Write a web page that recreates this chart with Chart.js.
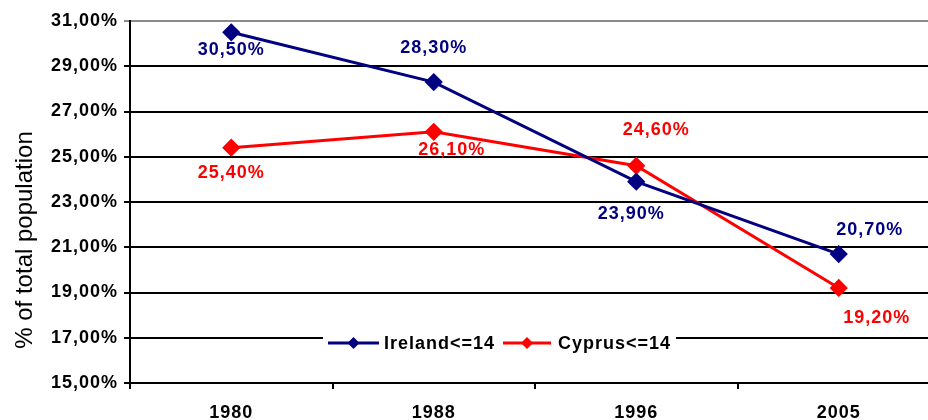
<!DOCTYPE html>
<html>
<head>
<meta charset="utf-8">
<script src="https://cdn.jsdelivr.net/npm/chart.js@4.4.0/dist/chart.umd.min.js"></script>
<style>
  html, body { margin: 0; padding: 0; background: #fff; overflow: hidden; }
  #wrap { width: 950px; height: 420px; }
</style>
</head>
<body>
<div id="wrap"><canvas id="chart"></canvas></div>
<script>
const years = ['1980', '1988', '1996', '2005'];
const ireland = [30.5, 28.3, 23.9, 20.7];
const cyprus = [25.4, 26.1, 24.6, 19.2];
const yMin = 15, yMax = 31, yStep = 2;
const yTitle = '% of total population';

// label nudges (pixels) per point, like the original placement
const irelandLabelOffsets = [[0, 18], [0, -34], [-5, 32], [31, -24]];
const cyprusLabelOffsets = [[0, 25], [18, 18], [20, -36], [38, 30]];

const FONT = '"Liberation Sans", Arial, sans-serif';
const pct = v => v.toFixed(2).replace('.', ',') + '%';

// the original text is a bit spread out, so widen letters a little
const spacing = {
    id: 'spacing',
    beforeDraw(chart) { chart.ctx.letterSpacing = '1px'; },
    afterDraw(chart) { chart.ctx.letterSpacing = '0px'; }
};

const pointLabels = {
    id: 'pointLabels',
    afterDatasetsDraw(chart) {
        const ctx = chart.ctx;
        ctx.save();
        ctx.letterSpacing = '1px';
        ctx.font = 'bold 18px ' + FONT;
        ctx.textAlign = 'center';
        ctx.textBaseline = 'middle';
        chart.data.datasets.forEach((ds, i) => {
            const meta = chart.getDatasetMeta(i);
            meta.data.forEach((pt, j) => {
                const off = ds.labelOffsets[j];
                ctx.fillStyle = ds.borderColor;
                ctx.fillText(pct(ds.data[j]), pt.x + off[0], pt.y + off[1]);
            });
        });
        ctx.restore();
    }
};

const sideTitle = {
    id: 'sideTitle',
    afterDraw(chart) {
        const ctx = chart.ctx;
        ctx.save();
        ctx.letterSpacing = '0px';
        ctx.translate(25, 240);
        ctx.rotate(-Math.PI / 2);
        ctx.font = '24px ' + FONT;
        ctx.fillStyle = '#000';
        ctx.textAlign = 'center';
        ctx.textBaseline = 'middle';
        ctx.fillText(yTitle, 0, 0);
        ctx.restore();
    }
};

const boxLegend = {
    id: 'boxLegend',
    afterDraw(chart) {
        const ctx = chart.ctx;
        const y = 343;
        ctx.save();
        ctx.fillStyle = '#fff';
        ctx.fillRect(323, 329, 353, 28);
        const items = [
            { x1: 328, x2: 379, tx: 384 },
            { x1: 503, x2: 551, tx: 558 }
        ];
        chart.data.datasets.forEach((ds, i) => {
            const it = items[i];
            ctx.strokeStyle = ds.borderColor;
            ctx.lineWidth = 3;
            ctx.beginPath();
            ctx.moveTo(it.x1, y);
            ctx.lineTo(it.x2, y);
            ctx.stroke();
            const cx = (it.x1 + it.x2) / 2, r = 6;
            ctx.fillStyle = ds.borderColor;
            ctx.beginPath();
            ctx.moveTo(cx, y - r);
            ctx.lineTo(cx + r, y);
            ctx.lineTo(cx, y + r);
            ctx.lineTo(cx - r, y);
            ctx.closePath();
            ctx.fill();
            ctx.fillStyle = '#000';
            ctx.letterSpacing = '1px';
            ctx.font = 'bold 18px ' + FONT;
            ctx.textAlign = 'left';
            ctx.textBaseline = 'middle';
            ctx.fillText(ds.label, it.tx, y + 1);
        });
        ctx.restore();
    }
};

new Chart(document.getElementById('chart'), {
    type: 'line',
    data: {
        labels: years,
        datasets: [{
            label: 'Ireland<=14',
            data: ireland,
            borderColor: '#000080',
            backgroundColor: '#000080',
            borderWidth: 3,
            pointStyle: 'rectRot',
            pointRadius: 7,
            pointHoverRadius: 7,
            tension: 0,
            labelOffsets: irelandLabelOffsets
        }, {
            label: 'Cyprus<=14',
            data: cyprus,
            borderColor: '#FF0000',
            backgroundColor: '#FF0000',
            borderWidth: 3,
            pointStyle: 'rectRot',
            pointRadius: 7,
            pointHoverRadius: 7,
            tension: 0,
            labelOffsets: cyprusLabelOffsets
        }]
    },
    options: {
        responsive: true,
        maintainAspectRatio: false,
        animation: false,
        devicePixelRatio: 1,
        layout: { padding: { top: 21, right: 8, left: 0, bottom: 0 } },
        plugins: {
            legend: { display: false },
            tooltip: { enabled: false }
        },
        scales: {
            x: {
                offset: true,
                grid: {
                    offset: true,
                    drawOnChartArea: false,
                    color: '#000',
                    lineWidth: 2,
                    tickLength: 6
                },
                border: { color: '#000', width: 2 },
                ticks: {
                    color: '#000',
                    font: { family: FONT, size: 18, weight: 'bold' },
                    padding: 13
                },
                afterFit(scale) { scale.height = 37; }
            },
            y: {
                min: yMin,
                max: yMax,
                ticks: {
                    stepSize: yStep,
                    color: '#000',
                    font: { family: FONT, size: 18, weight: 'bold' },
                    padding: 6,
                    callback: v => pct(v)
                },
                grid: {
                    color: ctx => (ctx.tick && ctx.tick.value === yMax) ? '#8a8a8a' : '#000',
                    lineWidth: 2,
                    tickLength: 6
                },
                border: { color: '#000', width: 2 },
                afterFit(scale) { scale.width = 130; }
            }
        }
    },
    plugins: [spacing, pointLabels, sideTitle, boxLegend]
});
</script>
</body>
</html>
